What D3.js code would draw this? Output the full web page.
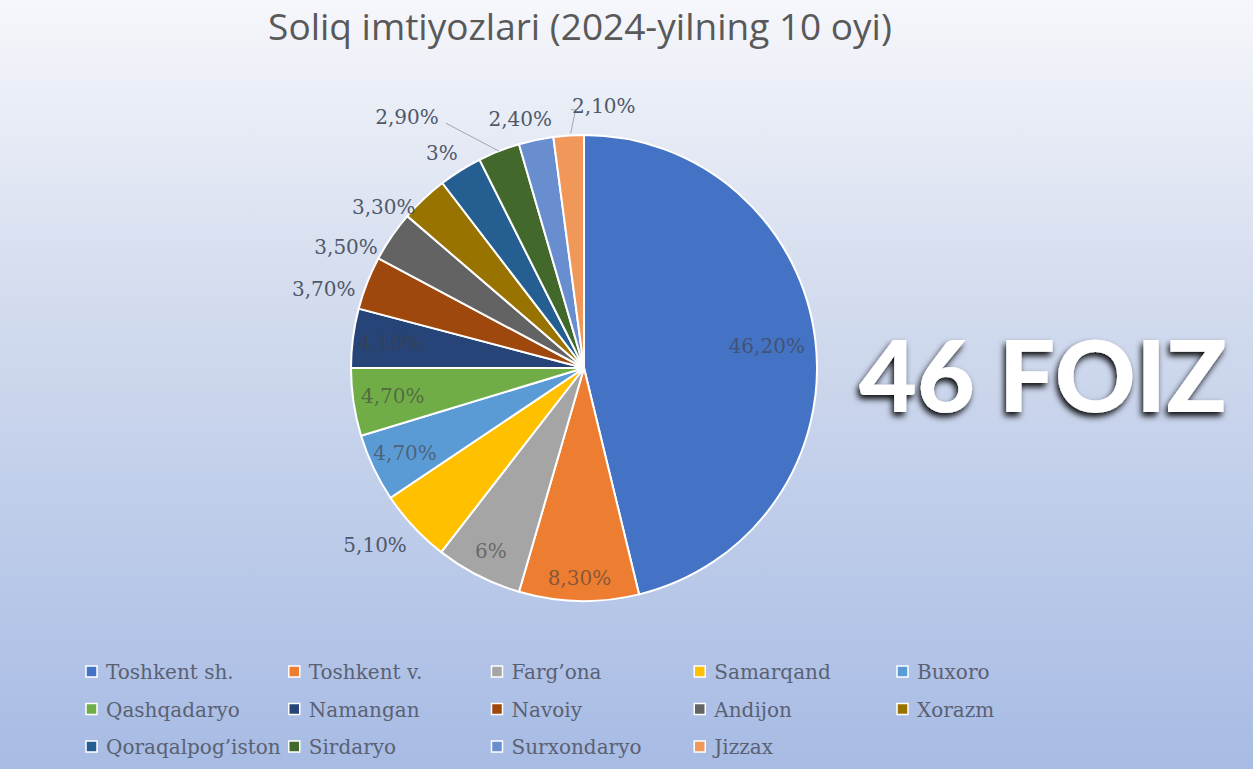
<!DOCTYPE html>
<html>
<head>
<meta charset="utf-8">
<script src="https://cdn.jsdelivr.net/npm/d3@7"></script>
<style>
  html, body { margin: 0; padding: 0; }
  body { width: 1253px; height: 769px; overflow: hidden; }
</style>
</head>
<body>
<svg width="1253" height="769"></svg>
<script>
// viloyatlar va ulushlar (%)
const regions = ["Toshkent sh.", "Toshkent v.", "Farg\u2019ona", "Samarqand", "Buxoro",
  "Qashqadaryo", "Namangan", "Navoiy", "Andijon", "Xorazm",
  "Qoraqalpog\u2019iston", "Sirdaryo", "Surxondaryo", "Jizzax"];
const shares = [46.2, 8.3, 6, 5.1, 4.7, 4.7, 4.1, 3.7, 3.5, 3.3, 3, 2.9, 2.4, 2.1];
const shareLabels = ["46,20%", "8,30%", "6%", "5,10%", "4,70%", "4,70%", "4,10%",
  "3,70%", "3,50%", "3,30%", "3%", "2,90%", "2,40%", "2,10%"];
const colors = ["#4472C4", "#ED7D31", "#A5A5A5", "#FFC000", "#5B9BD5", "#70AD47", "#264478",
  "#9E480E", "#636363", "#997300", "#255E91", "#43682B", "#698ED0", "#F1975A"];

// label joylashuvi: in = ichida, out = tashqarida, lead = chiziq bilan
const labelMode = ["in", "in", "in", "out", "in", "in", "in", "out", "out", "out", "out", "lead", "out", "lead"];
// ichki: radius ulushi; tashqi: burilish (gradus) va chetdan masofa (px)
const labelFrac = [0.79, 0.9, 0.88, 0, 0.85, 0.83, 0.84, 0, 0, 0, 0, 0, 0, 0];
const labelTurn = [0, 0, 0, 2.7, 0, 0, 0, -4.5, -7.4, -7.8, -1.4, -13.8, -2.5, 8.1];
const labelGap = [0, 0, 0, 41, 0, 0, 0, 39, 34, 24, 25, 74, 24, 30];

const svg = d3.select("svg");
const W = 1253, H = 769;
const cx = 584, cy = 368, R = 233;

// fon
const defs = svg.append("defs");
const grad = defs.append("linearGradient").attr("id", "bg").attr("x1", 0).attr("y1", 0).attr("x2", 0).attr("y2", 1);
grad.append("stop").attr("offset", "0%").attr("stop-color", "#f6f7fb");
grad.append("stop").attr("offset", "35%").attr("stop-color", "#d6deef");
grad.append("stop").attr("offset", "100%").attr("stop-color", "#a7bbe4");
const shadow = defs.append("filter").attr("id", "shadow").attr("x", "-20%").attr("y", "-30%").attr("width", "140%").attr("height", "160%");
shadow.append("feDropShadow").attr("dx", -2).attr("dy", 4).attr("stdDeviation", 3)
  .attr("flood-color", "#000").attr("flood-opacity", 0.95);

svg.append("rect").attr("width", W).attr("height", H).attr("fill", "url(#bg)");

// sarlavha
svg.append("text")
  .attr("x", 580).attr("y", 40)
  .attr("text-anchor", "middle")
  .attr("font-family", "'Open Sans', sans-serif")
  .attr("font-size", 37)
  .attr("fill", "#595959")
  .text("Soliq imtiyozlari (2024-yilning 10 oyi)");

const pie = d3.pie().sort(null).value(d => d);
const arcs = pie(shares);
const arc = d3.arc().innerRadius(0).outerRadius(R);

const g = svg.append("g").attr("transform", `translate(${cx},${cy})`);

g.selectAll("path.slice")
  .data(arcs)
  .enter()
  .append("path")
  .attr("class", "slice")
  .attr("d", arc)
  .attr("fill", (d, i) => colors[i])
  .attr("stroke", "#fff")
  .attr("stroke-width", 2);

function polar(a, r) {
  return [Math.sin(a) * r, -Math.cos(a) * r];
}

// labellar
arcs.forEach((d, i) => {
  const mid = (d.startAngle + d.endAngle) / 2;
  const mode = labelMode[i];
  let p, color = "#404040", op = 1;
  if (mode === "in") {
    p = polar(mid, R * labelFrac[i]);
    op = 0.62;
  } else {
    p = polar(mid + labelTurn[i] * Math.PI / 180, R + labelGap[i]);
    color = "#4f586a";
  }
  if (mode === "lead") {
    const e = polar(mid, R);
    let pts;
    if (i === 11) {
      pts = [e, [p[0] + 39, p[1] + 6]];
    } else {
      pts = [[e[0] + 2, e[1] - 2], [e[0] + 7, p[1] + 4], [p[0] - 33, p[1] + 4]];
    }
    g.append("path")
      .attr("d", d3.line()(pts))
      .attr("fill", "none")
      .attr("stroke", "#a6a6a6")
      .attr("stroke-width", 1);
  }
  g.append("text")
    .attr("x", p[0]).attr("y", p[1])
    .attr("text-anchor", "middle")
    .attr("dominant-baseline", "central")
    .attr("font-family", "'DejaVu Serif', serif")
    .attr("font-size", 20)
    .attr("fill", color)
    .attr("fill-opacity", op)
    .text(shareLabels[i]);
});

// 46 FOIZ
svg.append("text")
  .attr("x", 1043).attr("y", 412)
  .attr("text-anchor", "middle")
  .attr("font-family", "Lato, sans-serif")
  .attr("font-weight", 900)
  .attr("font-size", 100)
  .attr("fill", "#fff")
  .attr("filter", "url(#shadow)")
  .text("46 FOIZ");

// legenda
const legend = svg.append("g");
const colX = d3.scaleLinear().domain([0, 4]).range([86, 897]);
const rowY = d3.scaleLinear().domain([0, 2]).range([672, 747]);
const items = legend.selectAll("g.item")
  .data(regions)
  .enter()
  .append("g")
  .attr("class", "item")
  .attr("transform", (d, i) => `translate(${colX(i % 5)},${rowY(Math.floor(i / 5))})`);
items.append("rect")
  .attr("x", 0).attr("y", -6).attr("width", 11).attr("height", 11)
  .attr("fill", (d, i) => colors[i])
  .attr("stroke", "#fff").attr("stroke-width", 1.5);
items.append("text")
  .attr("x", 20).attr("y", 0)
  .attr("dominant-baseline", "central")
  .attr("font-family", "'DejaVu Serif', serif")
  .attr("font-size", 20)
  .attr("fill", "#5a6173")
  .text(d => d);
</script>
</body>
</html>
